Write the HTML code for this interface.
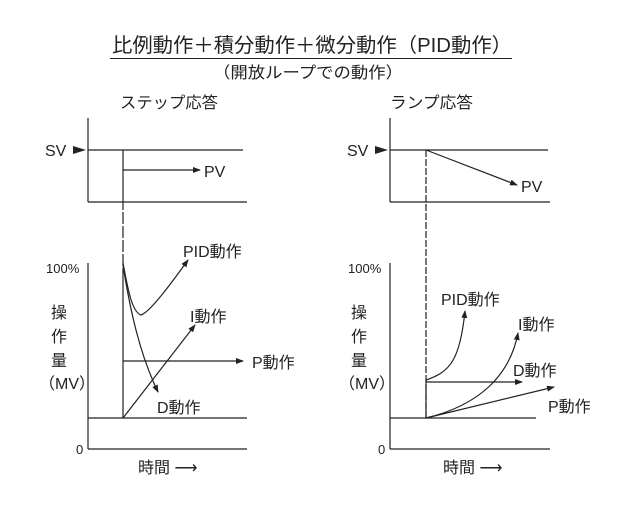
<!DOCTYPE html>
<html><head><meta charset="utf-8"><style>body{margin:0;background:#fff}svg{display:block}</style></head><body>
<svg width="629" height="505" viewBox="0 0 629 505" xmlns="http://www.w3.org/2000/svg" font-family="'Liberation Sans','Noto Sans CJK JP',sans-serif" fill="#222">
<defs><marker id="a" markerWidth="8" markerHeight="6" refX="7" refY="3" orient="auto" markerUnits="userSpaceOnUse"><path d="M0,0 L8,3 L0,6z" fill="#222"/></marker></defs>
<text x="112" y="52" font-size="20" textLength="400" lengthAdjust="spacingAndGlyphs">比例動作＋積分動作＋微分動作（PID動作）</text>
<line x1="110" y1="58.5" x2="512" y2="58.5" stroke="#222" stroke-width="1"/>
<text x="213" y="78" font-size="16" textLength="190" lengthAdjust="spacingAndGlyphs">（開放ループでの動作）</text>
<text x="120" y="108" font-size="16" textLength="98" lengthAdjust="spacingAndGlyphs">ステップ応答</text>
<text x="390" y="108" font-size="16" textLength="83" lengthAdjust="spacingAndGlyphs">ランプ応答</text>
<g stroke="#222" stroke-width="1.2" fill="none">
<line x1="88" y1="118" x2="88" y2="202"/><line x1="88" y1="150" x2="243" y2="150"/><line x1="88" y1="202" x2="247" y2="202"/>
<line x1="123" y1="150" x2="123" y2="418" stroke-dasharray="60,2,12,2,12,2,12,2,12,2,200"/>
<line x1="123" y1="170" x2="200" y2="170" marker-end="url(#a)"/>
<line x1="88" y1="263" x2="88" y2="449"/><line x1="88" y1="449" x2="247" y2="449"/><line x1="88" y1="418" x2="247" y2="418"/>
<line x1="123" y1="361" x2="243" y2="361" marker-end="url(#a)"/>
<path d="M123,263 C128,290 132,312 141,315 C150,312 170,285 188,260" marker-end="url(#a)"/>
<path d="M123,265 C130,310 140,355 158,392" marker-end="url(#a)"/>
<line x1="123" y1="418" x2="195" y2="325" marker-end="url(#a)"/>
<line x1="390" y1="118" x2="390" y2="202"/><line x1="390" y1="150" x2="548" y2="150"/><line x1="390" y1="202" x2="550" y2="202"/>
<line x1="426" y1="150" x2="426" y2="418" stroke-dasharray="7,2"/>
<line x1="426" y1="150" x2="517" y2="185" marker-end="url(#a)"/>
<line x1="390" y1="263" x2="390" y2="449"/><line x1="390" y1="449" x2="550" y2="449"/><line x1="390" y1="418" x2="536" y2="418"/>
<line x1="426" y1="380" x2="426" y2="418"/>
<line x1="426" y1="382" x2="522" y2="382" marker-end="url(#a)"/>
<line x1="426" y1="418" x2="554" y2="387" marker-end="url(#a)"/>
<path d="M426,380 C450,372 460,360 465,311" marker-end="url(#a)"/>
<path d="M426,418 C480,405 510,375 518,333" marker-end="url(#a)"/>
</g>
<path d="M73,146 L86,150 L73,154z"/><path d="M375,146 L388,150 L375,154z"/>
<g font-size="16">
<text x="45" y="156">SV</text><text x="347" y="156">SV</text>
<text x="204" y="177">PV</text><text x="521" y="192">PV</text>
<text x="183" y="257">PID動作</text><text x="190" y="322">I動作</text><text x="252" y="368">P動作</text><text x="157" y="413">D動作</text>
<text x="441" y="305">PID動作</text><text x="518" y="330">I動作</text><text x="513" y="376">D動作</text><text x="548" y="412">P動作</text>
</g>
<g font-size="13">
<text x="46" y="273">100%</text><text x="348" y="273">100%</text>
<text x="76" y="454">0</text><text x="378" y="454">0</text>
</g>
<g font-size="16">
<text x="51" y="318">操</text><text x="51" y="342">作</text><text x="51" y="366">量</text><text x="39" y="389">（MV）</text>
<text x="351" y="318">操</text><text x="351" y="342">作</text><text x="351" y="366">量</text><text x="339" y="389">（MV）</text>
<text x="138" y="473">時間 ⟶</text><text x="443" y="473">時間 ⟶</text>
</g>
</svg>
</body></html>
